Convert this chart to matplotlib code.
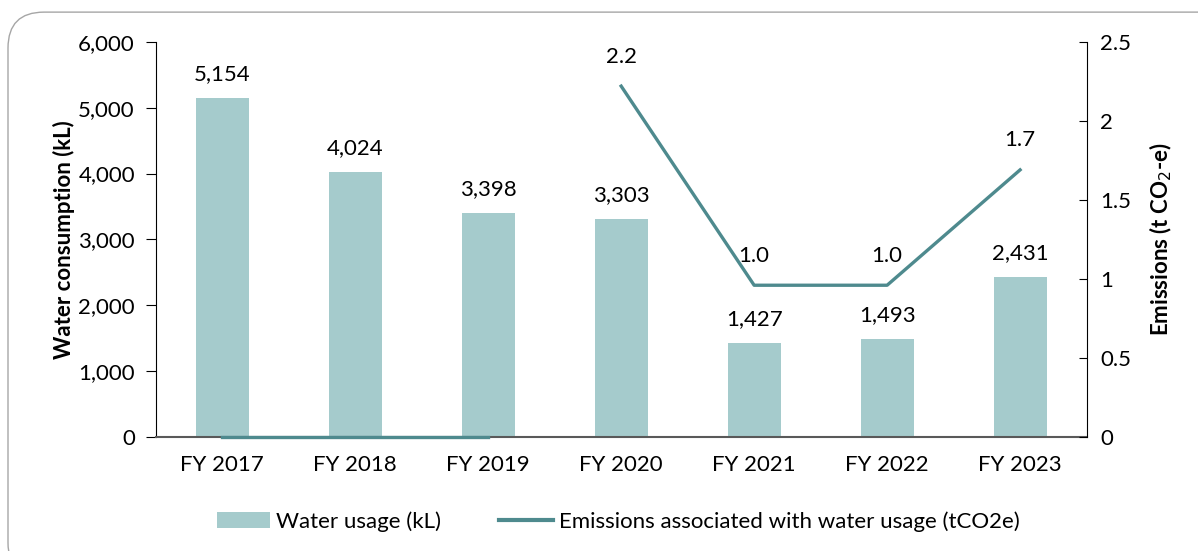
import numpy as np
import matplotlib
matplotlib.use("Agg")
import matplotlib.pyplot as plt
from matplotlib.patches import FancyBboxPatch
from matplotlib.lines import Line2D
from matplotlib.patches import Patch

plt.rcParams['font.family'] = ['Lato', 'DejaVu Sans']

years = ['FY 2017', 'FY 2018', 'FY 2019', 'FY 2020', 'FY 2021', 'FY 2022', 'FY 2023']
water = [5154, 4024, 3398, 3303, 1427, 1493, 2431]
# emissions as plotted (first three years sit on zero, then a separate run)
emis_early = [0, 0, 0]
emis_late = [2.22, 0.96, 0.96, 1.69]
emis_labels = ['2.2', '1.0', '1.0', '1.7']

bar_col = '#A5CBCC'
line_col = '#4E8A8E'
fs = 16

fig = plt.figure(figsize=(11.98, 5.51), dpi=100)
ax = fig.add_axes([0.130, 0.207, 0.777, 0.717])
ax2 = ax.twinx()

x = np.arange(len(years))
ax.bar(x, water, width=0.4, color=bar_col, zorder=2)
for xi, v in zip(x, water):
    ax.annotate(f'{v:,}', (xi, v), xytext=(0, 10), textcoords='offset points',
                ha='center', va='bottom', fontsize=fs)

ax.set_xlim(-0.5, len(years) - 0.5)
ax.set_ylim(0, 6000)
ax.set_yticks(np.arange(0, 6001, 1000))
ax.set_yticklabels([f'{v:,}' for v in range(0, 6001, 1000)], fontsize=fs)
ax.set_xticks(x)
ax.set_xticklabels(years, fontsize=fs)
ax.tick_params(axis='x', length=0, pad=13)
ax.tick_params(axis='y', length=7, direction='out', color='black', pad=8)
ax.set_ylabel('Water consumption (kL)', fontsize=fs, fontweight='bold', labelpad=2)
for s in ['top', 'right']:
    ax.spines[s].set_visible(False)
ax.spines['bottom'].set_color('#595959')
ax.spines['bottom'].set_linewidth(1.5)

ax2.plot(x[:3], emis_early, color=line_col, lw=2.4, zorder=3, clip_on=False)
ax2.plot(x[3:], emis_late, color=line_col, lw=2.4, zorder=3)
for xi, v, lab in zip(x[3:], emis_late, emis_labels):
    ax2.annotate(lab, (xi, v), xytext=(0, 14), textcoords='offset points',
                 ha='center', va='bottom', fontsize=fs)
ax2.set_ylim(0, 2.5)
ax2.set_yticks([0, 0.5, 1, 1.5, 2, 2.5])
ax2.set_yticklabels(['0', '0.5', '1', '1.5', '2', '2.5'], fontsize=fs)
ax2.tick_params(axis='y', length=6, direction='in', pad=10)
ax2.set_ylabel('Emissions (t CO$_2$-e)', fontsize=fs, fontweight='bold', labelpad=12)
for s in ['top', 'left', 'bottom']:
    ax2.spines[s].set_visible(False)

handles = [Patch(facecolor=bar_col, edgecolor='none'),
           Line2D([0], [0], color=line_col, lw=3)]
fig.legend(handles, ['Water usage (kL)', 'Emissions associated with water usage (tCO2e)'],
           loc='center', bbox_to_anchor=(0.516, 0.054), ncol=2, frameon=False,
           fontsize=fs, handlelength=2.4, handletextpad=0.27, columnspacing=2.6)

frame = FancyBboxPatch((8 / 1198, -0.05), 1.2, 1.028, transform=fig.transFigure,
                       boxstyle='round,pad=0,rounding_size=0.03',
                       facecolor='none', edgecolor='#A6A6A6', lw=1.0,
                       mutation_aspect=1198 / 551)
fig.patches.append(frame)

fig.savefig('out.png', dpi=100)
